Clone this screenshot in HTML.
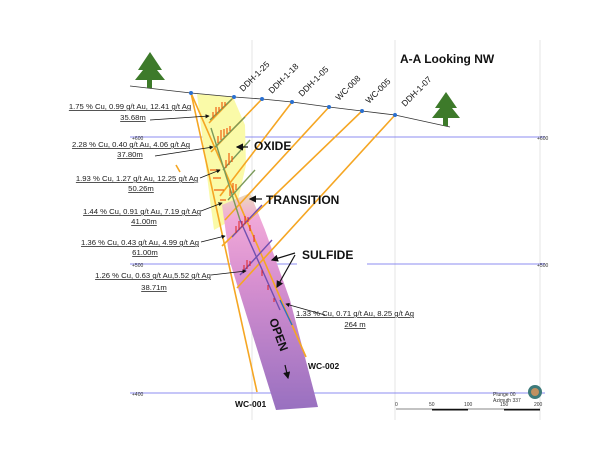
<!DOCTYPE html>
<html><head><meta charset="utf-8"><style>
html,body{margin:0;padding:0;background:#fff;}
svg{display:block;}
.l{font-family:"Liberation Sans",sans-serif;font-size:7.7px;text-decoration:underline;fill:#222;text-anchor:middle;}
.b{font-family:"Liberation Sans",sans-serif;font-weight:bold;font-size:12px;fill:#111;}
.d{font-family:"Liberation Sans",sans-serif;font-size:8.5px;fill:#111;}
.s{font-family:"Liberation Sans",sans-serif;font-size:5px;fill:#333;}
</style></head><body>
<svg width="600" height="450" viewBox="0 0 600 450" xmlns="http://www.w3.org/2000/svg">
<defs>
<linearGradient id="g" x1="0" y1="0" x2="0" y2="1">
<stop offset="0" stop-color="#ecdcb8"/><stop offset="0.12" stop-color="#f0a8d8"/><stop offset="0.4" stop-color="#d890d0"/><stop offset="1" stop-color="#9870c0"/>
</linearGradient>
<marker id="a" markerWidth="6" markerHeight="6" refX="5" refY="3" orient="auto"><path d="M0,0 L6,3 L0,6z" fill="#111"/></marker>
</defs>
<line x1="252" y1="40" x2="252" y2="420" stroke="#e6e6e6"/>
<line x1="395" y1="40" x2="395" y2="420" stroke="#e6e6e6"/>
<line x1="540" y1="40" x2="540" y2="420" stroke="#e6e6e6"/>
<line x1="130" y1="137" x2="545" y2="137" stroke="#6666ee" stroke-width="0.8"/>
<line x1="130" y1="264" x2="297" y2="264" stroke="#6666ee" stroke-width="0.8"/>
<line x1="367" y1="264" x2="545" y2="264" stroke="#6666ee" stroke-width="0.8"/>
<line x1="130" y1="393" x2="545" y2="393" stroke="#6666ee" stroke-width="0.8"/>
<text x="132" y="140" class="s" fill="#33c">+600</text>
<text x="132" y="267" class="s">+500</text>
<text x="132" y="396" class="s">+400</text>
<text x="537" y="140" class="s">+600</text><text x="537" y="267" class="s">+500</text>
<path d="M197,94 L233,97 L245,125 L246,165 L238,200 L228,222 L214,230 L210,200 Z" fill="#fafaa8"/>
<path d="M222,205 L250,193 L265,230 L290,300 L318,407 L276,410 L248,320 L230,262 Z" fill="url(#g)"/>
<polyline points="130,86 191,93 234,97 262,99 292,102 329,107 362,111 395,115 450,127" fill="none" stroke="#333" stroke-width="0.8"/>
<g fill="#3d7a2a"><polygon points="150,52 138,70 143,70 135,80 165,80 157,70 162,70"/><rect x="147" y="80" width="5" height="8"/>
<polygon points="446,92 435,108 440,108 432,118 460,118 452,108 457,108"/><rect x="443" y="118" width="5" height="8"/></g>
<g stroke="#f5a623" stroke-width="1.6" fill="none">
<line x1="191" y1="93" x2="257" y2="392"/>
<line x1="191" y1="93" x2="306" y2="357"/>
<line x1="234" y1="97" x2="209" y2="123"/>
<line x1="262" y1="99" x2="211" y2="152"/>
<line x1="292" y1="102" x2="220" y2="196"/>
<line x1="329" y1="107" x2="225" y2="220"/>
<line x1="362" y1="111" x2="222" y2="246"/>
<line x1="395" y1="115" x2="237" y2="288"/>
<line x1="176" y1="165" x2="180" y2="172"/>
</g>
<g stroke="#7a9a5a" stroke-width="1.4">
<line x1="232" y1="99" x2="210" y2="120"/><line x1="245" y1="117" x2="215" y2="147"/>
<line x1="250" y1="140" x2="223" y2="170"/><line x1="255" y1="170" x2="228" y2="200"/>
<line x1="211" y1="128" x2="240" y2="220"/></g>
<g stroke="#7050b0" stroke-width="1.4">
<line x1="262" y1="205" x2="232" y2="237"/><line x1="272" y1="240" x2="240" y2="275"/>
<line x1="240" y1="220" x2="280" y2="310"/></g>
<line x1="280" y1="300" x2="292" y2="325" stroke="#2a70c0" stroke-width="1.4"/>
<g stroke="#f06010" stroke-width="1.2">
<path d="M213,118 l0,-6 M216,115 l0,-8 M219,112 l0,-5 M222,109 l0,-7 M225,106 l0,-4"/>
<path d="M218,143 l0,-7 M221,140 l0,-10 M224,137 l0,-8 M227,134 l0,-6 M230,131 l0,-5"/>
<path d="M226,168 l0,-8 M229,165 l0,-12 M232,162 l0,-6 M220,170 l-10,0 M221,178 l-8,0 M224,190 l-10,0 M226,200 l-6,0"/>
<path d="M230,196 l0,-7 M233,193 l0,-10 M236,190 l0,-6"/>
</g>
<g stroke="#e02020" stroke-width="1">
<path d="M236,233 l0,-7 M239,230 l0,-9 M242,227 l0,-6 M245,224 l0,-8 M248,222 l0,-5 M250,225 l0,6 M254,235 l0,7"/>
<path d="M244,272 l0,-7 M247,269 l0,-9 M250,266 l0,-5 M262,270 l0,6 M268,285 l0,5 M274,298 l0,4"/>
</g>
<g fill="#2a70d0"><circle cx="191" cy="93" r="2"/><circle cx="234" cy="97" r="2"/><circle cx="262" cy="99" r="2"/><circle cx="292" cy="102" r="2"/><circle cx="329" cy="107" r="2"/><circle cx="362" cy="111" r="2"/><circle cx="395" cy="115" r="2"/></g>
<g class="d">
<text transform="translate(243,92) rotate(-45)">DDH-1-25</text>
<text transform="translate(272,94) rotate(-45)">DDH-1-18</text>
<text transform="translate(302,97) rotate(-45)">DDH-1-05</text>
<text transform="translate(339,101) rotate(-45)">WC-008</text>
<text transform="translate(369,104) rotate(-45)">WC-005</text>
<text transform="translate(405,107) rotate(-45)">DDH-1-07</text>
</g>
<text x="400" y="63" class="b">A-A Looking NW</text>
<text x="254" y="150" class="b">OXIDE</text>
<text x="266" y="204" class="b">TRANSITION</text>
<text x="302" y="259" class="b">SULFIDE</text>
<text x="308" y="369" class="d" font-weight="bold">WC-002</text>
<text x="235" y="407" class="d" font-weight="bold">WC-001</text>
<text transform="translate(269,320) rotate(70)" class="b" font-size="14">OPEN</text>
<g stroke="#111" stroke-width="1.2" fill="none" marker-end="url(#a)">
<line x1="248" y1="147" x2="237" y2="147"/>
<line x1="262" y1="199" x2="250" y2="199"/>
<line x1="295" y1="253" x2="272" y2="260"/>
<line x1="295" y1="255" x2="277" y2="287"/>
<line x1="285" y1="365" x2="288" y2="378"/>
</g>
<g stroke="#111" stroke-width="0.7" fill="none" marker-end="url(#a)">
<line x1="150" y1="120" x2="209" y2="116"/>
<line x1="155" y1="156" x2="213" y2="147"/>
<line x1="200" y1="178" x2="220" y2="170"/>
<line x1="201" y1="211" x2="222" y2="203"/>
<line x1="201" y1="242" x2="225" y2="236"/>
<line x1="211" y1="275" x2="246" y2="271"/>
<line x1="325" y1="315" x2="286" y2="304"/>
</g>
<text x="130" y="109" class="l">1.75 % Cu, 0.99 g/t Au, 12.41 g/t Ag</text>
<text x="133" y="120" class="l">35.68m</text>
<text x="131" y="147" class="l">2.28 % Cu, 0.40 g/t Au, 4.06 g/t Ag</text>
<text x="130" y="157" class="l">37.80m</text>
<text x="137" y="181" class="l">1.93 % Cu, 1.27 g/t Au, 12.25 g/t Ag</text>
<text x="141" y="191" class="l">50.26m</text>
<text x="142" y="214" class="l">1.44 % Cu, 0.91 g/t Au, 7.19 g/t Ag</text>
<text x="144" y="224" class="l">41.00m</text>
<text x="140" y="245" class="l">1.36 % Cu, 0.43 g/t Au, 4.99 g/t Ag</text>
<text x="145" y="255" class="l">61.00m</text>
<text x="153" y="278" class="l">1.26 % Cu, 0.63 g/t Au,5.52 g/t Ag</text>
<text x="154" y="290" class="l">38.71m</text>
<text x="355" y="316" class="l">1.33 % Cu, 0.71 g/t Au, 8.25 g/t Ag</text>
<text x="355" y="327" class="l">264 m</text>
<text x="493" y="396" class="s">Plunge 00</text>
<text x="493" y="402" class="s">Azimuth 337</text>
<circle cx="535" cy="392" r="7" fill="#3d7a7a"/><circle cx="535" cy="392" r="4" fill="#c09060"/>
<line x1="396" y1="409" x2="540" y2="409" stroke="#111" stroke-width="0.6"/>
<rect x="432" y="409" width="36" height="1.5" fill="#111"/><rect x="504" y="409" width="36" height="1.5" fill="#111"/>
<g class="s"><text x="395" y="406">0</text><text x="429" y="406">50</text><text x="464" y="406">100</text><text x="500" y="406">150</text><text x="534" y="406">200</text></g>
</svg>
</body></html>
